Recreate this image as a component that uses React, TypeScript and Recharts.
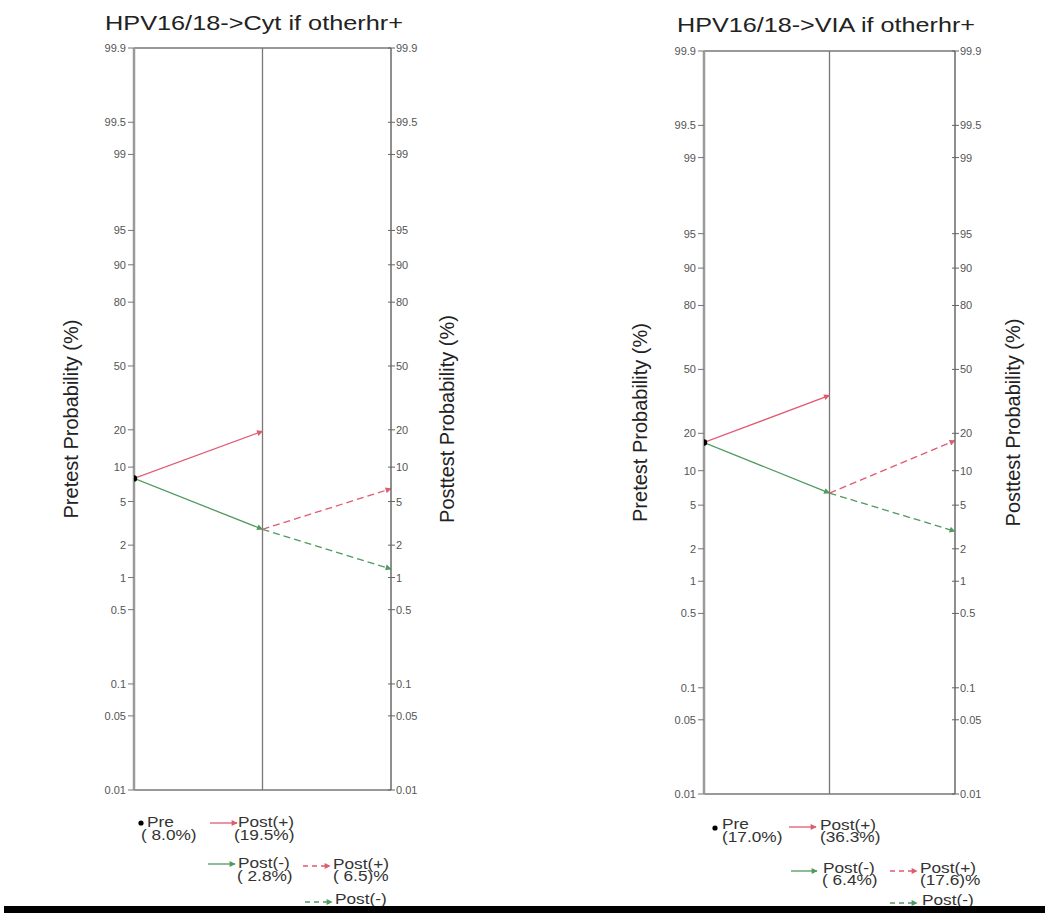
import React from 'react';
import { LineChart, Line, XAxis, YAxis, ReferenceLine } from 'recharts';

// ---- data ----
const tickProbs = [99.9, 99.5, 99, 95, 90, 80, 50, 20, 10, 5, 2, 1, 0.5, 0.1, 0.05, 0.01];
const tickLabels = ['99.9', '99.5', '99', '95', '90', '80', '50', '20', '10', '5', '2', '1', '0.5', '0.1', '0.05', '0.01'];
const stages = [0, 1, 2]; // pretest, after test 1, after test 2

const titles = ['HPV16/18->Cyt if otherhr+', 'HPV16/18->VIA if otherhr+'];
const preProb = [8.0, 17.0];
const post1Pos = [19.5, 36.3];
const post1Neg = [2.8, 6.4];
const post2Pos = [6.5, 17.6];
const post2Neg = [1.2, 2.9];

const RED = '#e05a72';
const GREEN = '#4f9a5f';
const FONT = '"Liberation Sans", Arial, sans-serif';

const logit = (p: number) => Math.log(p / (100 - p));
const yMin = logit(0.01);
const yMax = logit(99.9);
const yTicks = tickProbs.map(logit);

const seg = (a: number, b: number, s0: number, s1: number) => [
  { x: stages[s0], y: logit(a) },
  { x: stages[s1], y: logit(b) },
];

const LeftTick = (props: any) => {
  const { x, y, index } = props;
  return (
    <text x={x} y={y} dy={4} textAnchor="end" fontSize={11} fill="#555" fontFamily={FONT}>
      {tickLabels[index]}
    </text>
  );
};

const RightTick = (props: any) => {
  const { x, y, index } = props;
  return (
    <g>
      <line x1={x - 8} x2={x - 1} y1={y} y2={y} stroke="#666" strokeWidth={1} />
      <text x={x} y={y} dy={4} textAnchor="start" fontSize={11} fill="#555" fontFamily={FONT}>
        {tickLabels[index]}
      </text>
    </g>
  );
};

const AxisTitle = (props: any) => {
  const { viewBox, text, dx } = props;
  if (!viewBox) return null;
  const cx = viewBox.x + dx;
  const cy = viewBox.y + viewBox.height / 2;
  return (
    <text
      x={cx}
      y={cy}
      transform={`rotate(-90 ${cx} ${cy})`}
      textAnchor="middle"
      dominantBaseline="central"
      fontSize={20}
      fill="#222"
      fontFamily={FONT}
    >
      {text}
    </text>
  );
};

const preDot = (p: any) =>
  p.index === 0 ? <circle key={`d${p.index}`} cx={p.cx} cy={p.cy} r={3.2} fill="#000" /> : <g key={`d${p.index}`} />;

type PanelProps = {
  i: number; left: number; width: number; height: number; mTop: number; mBottom: number;
  rightW: number; lDx: number; rDx: number;
};

const Panel = ({ i, left, width, height, mTop, mBottom, rightW, lDx, rDx }: PanelProps) => (
  <div style={{ position: 'absolute', left, top: 0 }}>
    <LineChart width={width} height={height} margin={{ top: mTop, right: 0, bottom: mBottom, left: 0 }}>
      <XAxis type="number" dataKey="x" domain={[0, 2]} hide allowDataOverflow />
      <YAxis
        yAxisId="L"
        orientation="left"
        type="number"
        domain={[yMin, yMax]}
        ticks={yTicks}
        interval={0}
        width={134}
        allowDataOverflow
        axisLine={{ stroke: '#9a9a9a', strokeWidth: 2.5 }}
        tickLine={{ stroke: '#777' }}
        tickSize={6}
        tickMargin={2}
        tick={<LeftTick />}
        label={<AxisTitle text="Pretest Probability (%)" dx={lDx} />}
      />
      <YAxis
        yAxisId="R"
        orientation="right"
        type="number"
        domain={[yMin, yMax]}
        ticks={yTicks}
        interval={0}
        width={rightW}
        allowDataOverflow
        axisLine={{ stroke: '#6a6a6a', strokeWidth: 1.5 }}
        tickLine={false}
        tickSize={4}
        tickMargin={1}
        tick={<RightTick />}
        label={<AxisTitle text="Posttest Probability (%)" dx={rDx} />}
      />
      <ReferenceLine yAxisId="L" y={yMax} stroke="#777" strokeWidth={1.5} />
      <ReferenceLine yAxisId="L" y={yMin} stroke="#777" strokeWidth={1.5} />
      <ReferenceLine yAxisId="L" x={stages[1]} stroke="#777" strokeWidth={1.3} />
      <Line yAxisId="L" data={seg(post1Neg[i], post2Neg[i], 1, 2)} dataKey="y" type="linear" stroke={GREEN}
        strokeWidth={1.3} strokeDasharray="7 4" dot={false} markerEnd="url(#arrGreen)" isAnimationActive={false} />
      <Line yAxisId="L" data={seg(post1Neg[i], post2Pos[i], 1, 2)} dataKey="y" type="linear" stroke={RED}
        strokeWidth={1.3} strokeDasharray="7 4" dot={false} markerEnd="url(#arrRed)" isAnimationActive={false} />
      <Line yAxisId="L" data={seg(preProb[i], post1Neg[i], 0, 1)} dataKey="y" type="linear" stroke={GREEN}
        strokeWidth={1.3} dot={false} markerEnd="url(#arrGreen)" isAnimationActive={false} />
      <Line yAxisId="L" data={seg(preProb[i], post1Pos[i], 0, 1)} dataKey="y" type="linear" stroke={RED}
        strokeWidth={1.3} dot={preDot} markerEnd="url(#arrRed)" isAnimationActive={false} />
    </LineChart>
  </div>
);

const fmtA = (v: number) => `(${v.toFixed(1).padStart(4, ' ')}%)`;
const fmtB = (v: number) => `(${v.toFixed(1).padStart(4, ' ')})%`;

const LT = ({ x, y, children }: any) => (
  <text transform={`translate(${x},${y}) scale(1.15,1)`} fontSize={15} fill="#333" fontFamily={FONT}
    style={{ whiteSpace: 'pre' }}>
    {children}
  </text>
);

const legendPos = [
  {
    dot: [141, 823], pre: [147, 827], preV: [141, 840],
    a1: [210, 237, 823], p1: [238, 827], p1v: [234, 840],
    a2: [208, 235, 864], n1: [238, 868], n1v: [237, 881],
    a3: [303, 330, 866], p2: [333, 869], p2v: [333, 881],
    a4: [305, 332, 902], n2: [335, 904], n2v: [335, 917],
  },
  {
    dot: [715, 828], pre: [722, 829], preV: [722, 842],
    a1: [789, 816, 827], p1: [820, 830], p1v: [820, 842],
    a2: [791, 817, 871], n1: [823, 873], n1v: [822, 885],
    a3: [890, 917, 871], p2: [920, 873], p2v: [920, 885],
    a4: [890, 917, 903], n2: [922, 905], n2v: [922, 917],
  },
];

const Arrow = ({ a, color, dashed }: any) => (
  <line x1={a[0]} x2={a[1]} y1={a[2]} y2={a[2]} stroke={color} strokeWidth={1.3}
    strokeDasharray={dashed ? '5 4' : undefined}
    markerEnd={color === RED ? 'url(#arrRed)' : 'url(#arrGreen)'} />
);

const LegendBlock = ({ i }: { i: number }) => {
  const p = legendPos[i];
  return (
    <g>
      <circle cx={p.dot[0]} cy={p.dot[1]} r={2.6} fill="#000" />
      <LT x={p.pre[0]} y={p.pre[1]}>Pre</LT>
      <LT x={p.preV[0]} y={p.preV[1]}>{fmtA(preProb[i])}</LT>
      <Arrow a={p.a1} color={RED} />
      <LT x={p.p1[0]} y={p.p1[1]}>Post(+)</LT>
      <LT x={p.p1v[0]} y={p.p1v[1]}>{fmtA(post1Pos[i])}</LT>
      <Arrow a={p.a2} color={GREEN} />
      <LT x={p.n1[0]} y={p.n1[1]}>Post(-)</LT>
      <LT x={p.n1v[0]} y={p.n1v[1]}>{fmtA(post1Neg[i])}</LT>
      <Arrow a={p.a3} color={RED} dashed />
      <LT x={p.p2[0]} y={p.p2[1]}>Post(+)</LT>
      <LT x={p.p2v[0]} y={p.p2v[1]}>{fmtB(post2Pos[i])}</LT>
      <Arrow a={p.a4} color={GREEN} dashed />
      <LT x={p.n2[0]} y={p.n2[1]}>Post(-)</LT>
      <LT x={p.n2v[0]} y={p.n2v[1]}>{fmtB(post2Neg[i])}</LT>
    </g>
  );
};

export default function App() {
  return (
    <div style={{ position: 'absolute', left: 0, top: 0, width: 1045, height: 913, background: '#fff', overflow: 'hidden' }}>
      <svg width={0} height={0} style={{ position: 'absolute' }}>
        <defs>
          <marker id="arrRed" viewBox="0 0 10 10" refX={9} refY={5} markerWidth={7} markerHeight={6}
            markerUnits="userSpaceOnUse" orient="auto">
            <path d="M0,0 L10,5 L0,10 z" fill={RED} />
          </marker>
          <marker id="arrGreen" viewBox="0 0 10 10" refX={9} refY={5} markerWidth={7} markerHeight={6}
            markerUnits="userSpaceOnUse" orient="auto">
            <path d="M0,0 L10,5 L0,10 z" fill={GREEN} />
          </marker>
        </defs>
      </svg>
      <Panel i={0} left={0} width={470} height={800} mTop={48} mBottom={10} rightW={79} lDx={71} rDx={56} />
      <Panel i={1} left={570} width={475} height={804} mTop={51} mBottom={10} rightW={90} lDx={70} rDx={58} />
      <svg width={1045} height={913} style={{ position: 'absolute', left: 0, top: 0, pointerEvents: 'none' }}>
        <text x={105} y={30} fontSize={21} fill="#222" fontFamily={FONT} textLength={298} lengthAdjust="spacingAndGlyphs">
          {titles[0]}
        </text>
        <text x={677} y={32} fontSize={21} fill="#222" fontFamily={FONT} textLength={298} lengthAdjust="spacingAndGlyphs">
          {titles[1]}
        </text>
        <LegendBlock i={0} />
        <LegendBlock i={1} />
        <rect x={4} y={906} width={1041} height={7} fill="#000" />
      </svg>
    </div>
  );
}
